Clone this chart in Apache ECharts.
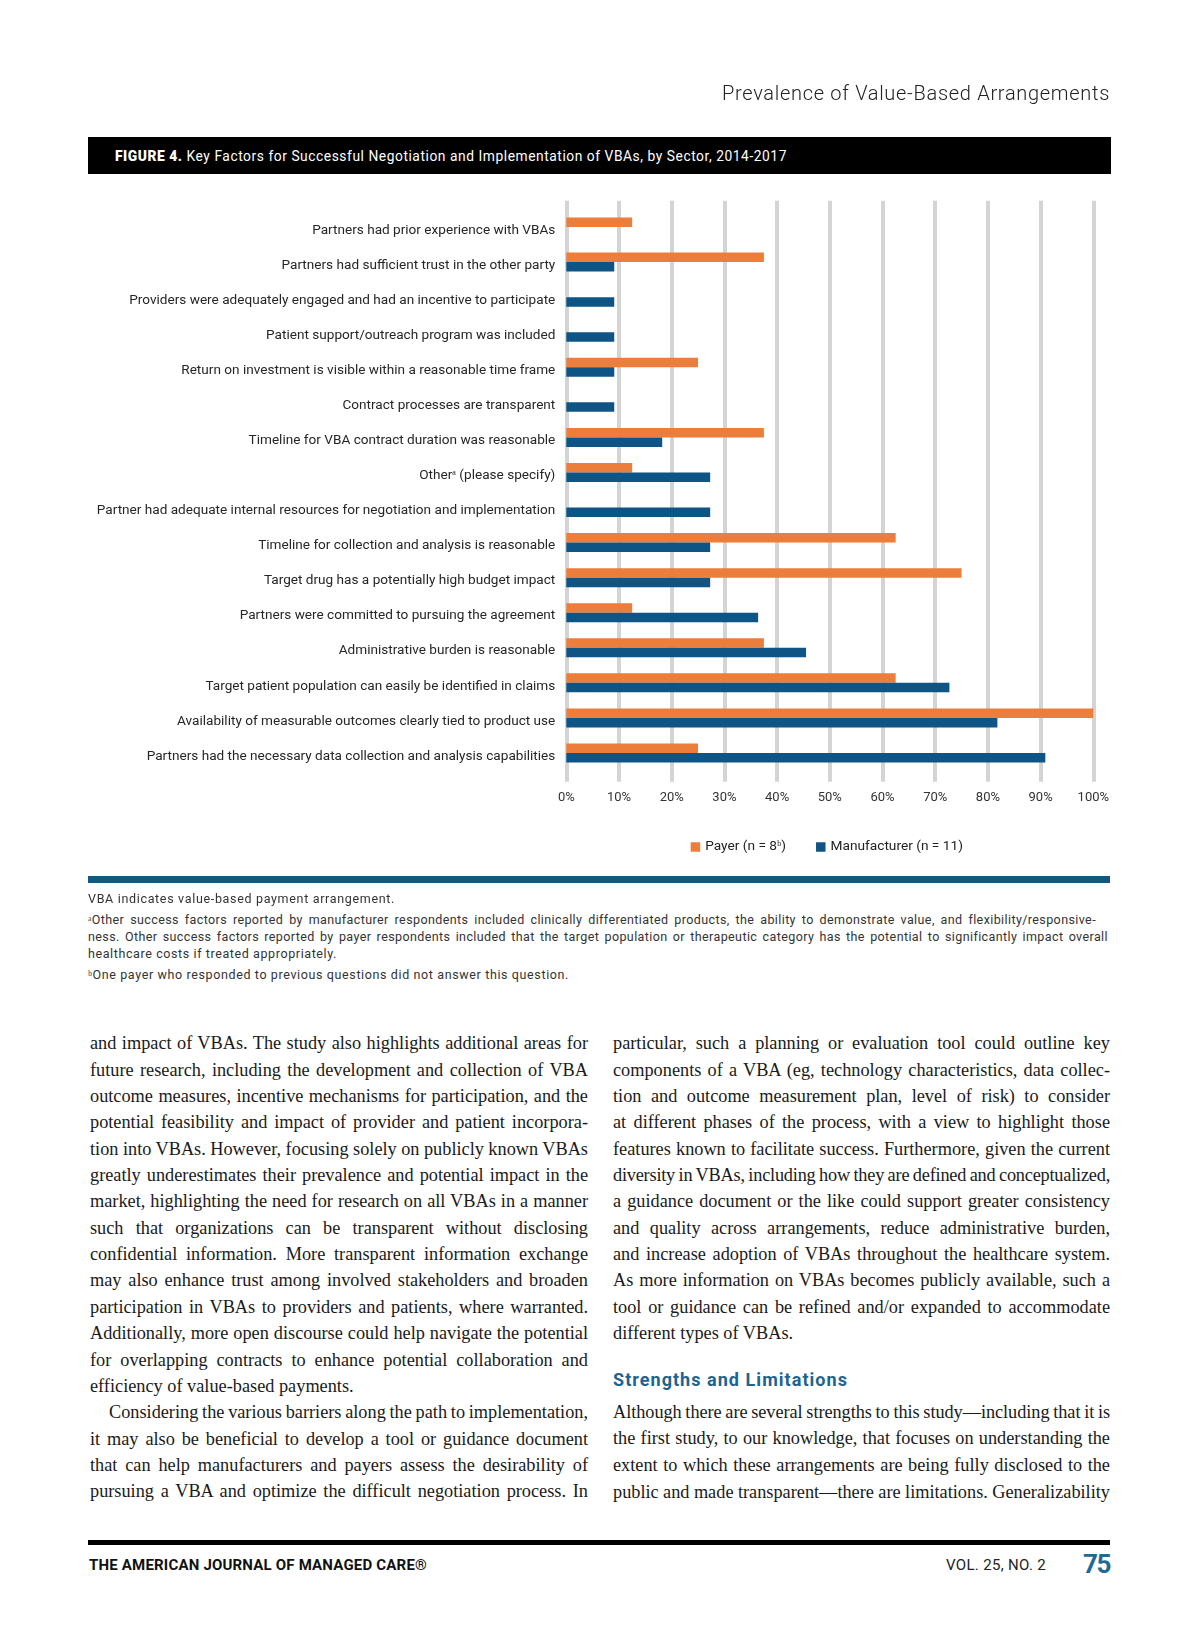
<!DOCTYPE html>
<html><head><meta charset="utf-8">
<script src="https://cdn.jsdelivr.net/npm/echarts@6/dist/echarts.min.js"></script>
<style>
html,body{margin:0;padding:0;background:#fff;}
#page{position:relative;width:1200px;height:1638px;overflow:hidden;background:#fff;}
#chart{position:absolute;left:0;top:0;width:1200px;height:900px;}
.t{position:absolute;white-space:nowrap;}
.rule{position:absolute;}
</style></head>
<body><div id="page"><div id="chart"></div></div>
<script>
// ---------- data ----------
const categories = [
  "Partners had prior experience with VBAs",
  "Partners had sufficient trust in the other party",
  "Providers were adequately engaged and had an incentive to participate",
  "Patient support/outreach program was included",
  "Return on investment is visible within a reasonable time frame",
  "Contract processes are transparent",
  "Timeline for VBA contract duration was reasonable",
  "Other\u1D43 (please specify)",
  "Partner had adequate internal resources for negotiation and implementation",
  "Timeline for collection and analysis is reasonable",
  "Target drug has a potentially high budget impact",
  "Partners were committed to pursuing the agreement",
  "Administrative burden is reasonable",
  "Target patient population can easily be identified in claims",
  "Availability of measurable outcomes clearly tied to product use",
  "Partners had the necessary data collection and analysis capabilities"
];
const payerValues = [12.5, 37.5, 0, 0, 25, 0, 37.5, 12.5, 0, 62.5, 75, 12.5, 37.5, 62.5, 100, 25];
const manufacturerValues = [0, 9.1, 9.1, 9.1, 9.1, 9.1, 18.2, 27.3, 27.3, 27.3, 27.3, 36.4, 45.5, 72.7, 81.8, 90.9];
const seriesNames = ["Payer (n = 8\u1D47)", "Manufacturer (n = 11)"];
const xTickMin = 0, xTickMax = 100, xTickStep = 10;

const ORANGE = '#ED7D3A', BLUE = '#0E5586';

// ---------- chart ----------
const chart = echarts.init(document.getElementById('chart'), null, {renderer:'canvas'});
chart.setOption({
  animation:false,
  backgroundColor:'transparent',
  grid:[
    {left:566.3, top:200.7, width:527, height:581},
    {left:566.3, top:209.5, width:527, height:561}
  ],
  xAxis:[
    {gridIndex:0, type:'value', min:xTickMin, max:xTickMax, interval:xTickStep,
     axisLine:{show:false}, axisTick:{show:false},
     splitLine:{show:true, showMinLine:true, showMaxLine:true, lineStyle:{color:'#d4d4d4', width:4}},
     axisLabel:{formatter:'{value}%', margin:9.5, fontSize:13, color:'#333', fontFamily:'Roboto'}},
    {gridIndex:1, type:'value', min:xTickMin, max:xTickMax, show:false}
  ],
  yAxis:[
    {gridIndex:0, type:'value', min:0, max:1, show:false},
    {gridIndex:1, type:'category', inverse:true, data:categories,
     axisLine:{show:false}, axisTick:{show:false}, splitLine:{show:false},
     axisLabel:{margin:11, fontSize:13.6, color:'#262626', fontFamily:'Roboto',
       verticalAlign:'top', lineHeight:6.5}}
  ],
  legend:{left:685.7, top:835, padding:5, itemWidth:9.5, itemHeight:9.5, itemGap:30, icon:'rect',
    data:seriesNames, textStyle:{fontSize:13.7, color:'#222', fontFamily:'Roboto'}},
  series:[
    {type:'scatter', xAxisIndex:0, yAxisIndex:0, data:[], silent:true},
    {name:seriesNames[0], type:'bar', xAxisIndex:1, yAxisIndex:1, data:payerValues,
     barWidth:9.5, barGap:'0%', itemStyle:{color:ORANGE}},
    {name:seriesNames[1], type:'bar', xAxisIndex:1, yAxisIndex:1, data:manufacturerValues,
     barWidth:9.5, barGap:'0%', itemStyle:{color:BLUE}}
  ]
});

// ---------- page text ----------
const page = document.getElementById('page');
function box(x,y,w,h,color){const d=document.createElement('div');d.className='rule';
  Object.assign(d.style,{left:x+'px',top:y+'px',width:w+'px',height:h+'px',background:color});page.appendChild(d);return d;}
function txt(content, o){
  const d=document.createElement('div'); d.className='t';
  const lh=o.lh||Math.round(o.size*1.4);
  Object.assign(d.style,{fontFamily:o.family||'Roboto',fontSize:o.size+'px',fontWeight:o.weight||400,
    color:o.color||'#222',lineHeight:lh+'px',top:(o.yc-lh/2)+'px',left:'0px'});
  if(o.ls!=null) d.style.letterSpacing=o.ls+'px';
  if(o.html) d.innerHTML=content; else d.textContent=content;
  page.appendChild(d);
  let nw=d.getBoundingClientRect().width;
  if(o.w){
    if(o.justify){
      const sp=(d.textContent.match(/ /g)||[]).length;
      if(sp){
        let ws=(o.w-nw)/sp;
        if(ws<-0.8){
          const n=d.textContent.length;
          const rest=(o.w-nw)+0.8*sp;
          d.style.letterSpacing=(rest/n+(o.ls||0))+'px';
          ws=-0.8;
        }
        d.style.wordSpacing=ws+'px';
      }
    } else if(o.fit){
      const n=d.textContent.length;
      d.style.letterSpacing=((o.w-nw)/n + (o.ls||0))+'px';
    }
  }
  const fw=d.getBoundingClientRect().width;
  d.style.left=(o.align==='right'?(o.x-fw):o.x)+'px';
  return d;
}

// header
txt('Prevalence of Value-Based Arrangements',{x:1110,yc:92.7,size:20,weight:300,color:'#222',align:'right',w:388,fit:true});
// title bar
box(88,137,1023,37,'#000');
txt('<b style="font-weight:900">FIGURE 4.</b> Key Factors for Successful Negotiation and Implementation of VBAs, by Sector, 2014-2017',
  {x:115,yc:156.5,size:13.8,weight:400,color:'#fff',html:true,w:672,fit:true});
// blue rule
box(88,876,1022,7,'#12587F');
// footnotes
const fnOpt={size:12.5,color:'#333',lh:15,ls:0.4};
txt('VBA indicates value-based payment arrangement.',Object.assign({x:88,yc:898.5,w:307,fit:true},fnOpt));
txt('\u1D43Other success factors reported by manufacturer respondents included clinically differentiated products, the ability to demonstrate value, and flexibility/responsive-',Object.assign({x:88,yc:919.5,w:1008,justify:true},fnOpt));
txt('ness. Other success factors reported by payer respondents included that the target population or therapeutic category has the potential to significantly impact overall',Object.assign({x:88,yc:936.5,w:1020,justify:true},fnOpt));
txt('healthcare costs if treated appropriately.',Object.assign({x:88,yc:953.5,w:249,fit:true},fnOpt));
txt('\u1D47One payer who responded to previous questions did not answer this question.',Object.assign({x:88,yc:974,w:481,fit:true},fnOpt));

// body text
const leftLines = [
 ['and impact of VBAs. The study also highlights additional areas for',1],
 ['future research, including the development and collection of VBA',1],
 ['outcome measures, incentive mechanisms for participation, and the',1],
 ['potential feasibility and impact of provider and patient incorpora-',1],
 ['tion into VBAs. However, focusing solely on publicly known VBAs',1],
 ['greatly underestimates their prevalence and potential impact in the',1],
 ['market, highlighting the need for research on all VBAs in a manner',1],
 ['such that organizations can be transparent without disclosing',1],
 ['confidential information. More transparent information exchange',1],
 ['may also enhance trust among involved stakeholders and broaden',1],
 ['participation in VBAs to providers and patients, where warranted.',1],
 ['Additionally, more open discourse could help navigate the potential',1],
 ['for overlapping contracts to enhance potential collaboration and',1],
 ['efficiency of value-based payments.',0],
 ['Considering the various barriers along the path to implementation,',2],
 ['it may also be beneficial to develop a tool or guidance document',1],
 ['that can help manufacturers and payers assess the desirability of',1],
 ['pursuing a VBA and optimize the difficult negotiation process. In',1]
];
const rightLines = [
 ['particular, such a planning or evaluation tool could outline key',1],
 ['components of a VBA (eg, technology characteristics, data collec-',1],
 ['tion and outcome measurement plan, level of risk) to consider',1],
 ['at different phases of the process, with a view to highlight those',1],
 ['features known to facilitate success. Furthermore, given the current',1],
 ['diversity in VBAs, including how they are defined and conceptualized,',1],
 ['a guidance document or the like could support greater consistency',1],
 ['and quality across arrangements, reduce administrative burden,',1],
 ['and increase adoption of VBAs throughout the healthcare system.',1],
 ['As more information on VBAs becomes publicly available, such a',1],
 ['tool or guidance can be refined and/or expanded to accommodate',1],
 ['different types of VBAs.',0]
];
const rightLines2 = [
 ['Although there are several strengths to this study\u2014including that it is',1],
 ['the first study, to our knowledge, that focuses on understanding the',1],
 ['extent to which these arrangements are being fully disclosed to the',1],
 ['public and made transparent\u2014there are limitations. Generalizability',1]
];
const bodyOpt={size:18.3,family:'Liberation Serif',color:'#1a1a1a',lh:26};
const LS=26.35, LS2=26.6;
leftLines.forEach((l,i)=>{
  const indent=l[1]===2?19:0;
  txt(l[0],Object.assign({x:90+indent,yc:1043.3+i*LS,w:l[1]?498-indent:null,justify:!!l[1]},bodyOpt));
});
rightLines.forEach((l,i)=>{
  txt(l[0],Object.assign({x:613,yc:1043.3+i*LS,w:l[1]?497:null,justify:!!l[1]},bodyOpt));
});
txt('Strengths and Limitations',{x:613,yc:1379,size:18,weight:700,color:'#1E6391',w:235,fit:true});
rightLines2.forEach((l,i)=>{
  txt(l[0],Object.assign({x:613,yc:1411.7+i*LS2,w:497,justify:true},bodyOpt));
});

// footer
box(88,1540,1022,4.5,'#000');
txt('THE AMERICAN JOURNAL OF MANAGED CARE\u00AE',{x:89,yc:1565,size:15,weight:700,color:'#111',w:338,fit:true});
txt('VOL. 25, NO. 2',{x:946,yc:1565,size:15,weight:400,color:'#222',w:100,fit:true});
txt('75',{x:1110,yc:1564,size:26,weight:700,color:'#1D6A94',align:'right',w:27,fit:true});
</script>
</body></html>
